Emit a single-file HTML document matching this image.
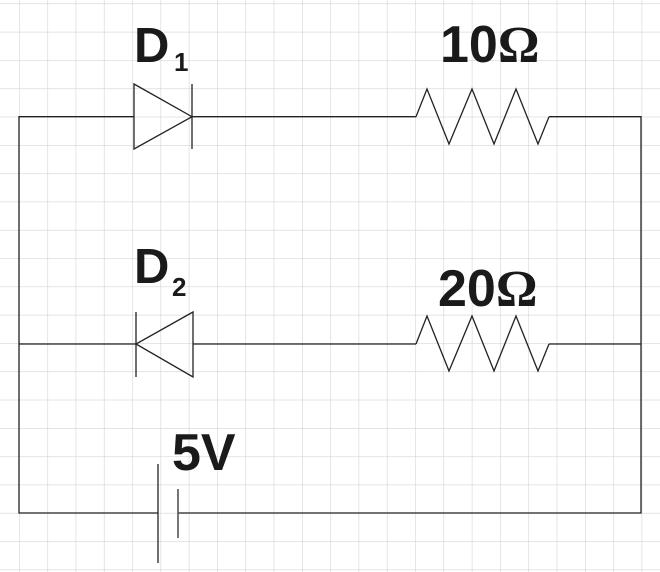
<!DOCTYPE html>
<html><head><style>
html,body{margin:0;padding:0;background:#fff;}
svg{display:block;}
text{font-family:"Liberation Sans",sans-serif;font-weight:bold;fill:#1a1a1a;}
</style></head><body>
<svg width="660" height="572" viewBox="0 0 660 572" xmlns="http://www.w3.org/2000/svg">
<defs>
<pattern id="g" x="19" y="3.5" width="28.3" height="28.3" patternUnits="userSpaceOnUse">
<path d="M0 0V28.3M0 0H28.3" stroke="#d4d4d4" stroke-width="1.2" fill="none"/>
</pattern>
</defs>
<rect width="660" height="572" fill="url(#g)"/>
<g stroke="#222" stroke-width="1.3" fill="none">
<path d="M134 116.7H19V513H158M178 513H641V116.7H549"/>
<path d="M192 116.7H416"/>
<path d="M134 84L192 116.7L134 149Z"/>
<path d="M192 84V149"/>
<path d="M416 116.7L427 89L449 144L472 89L494 144L516 89L538 144L549 116.7"/>
<path d="M19 344H136M193 344H416M549 344H641"/>
<path d="M136 312V377"/>
<path d="M193 312L136 344L193 377Z"/>
<path d="M416 344L427 316L449 371L472 316L494 371L516 316L538 371L549 344"/>
<path d="M158 464V563"/>
<path d="M178 489V538" stroke="#555" stroke-width="1.6"/>
</g>
<text x="134" y="62" font-size="49">D</text><text x="174" y="71" font-size="26">1</text>
<text x="134" y="283" font-size="49">D</text><text x="172" y="296" font-size="26">2</text>
<text x="440" y="62" font-size="52">10<tspan font-family="Liberation Serif, serif">Ω</tspan></text>
<text x="438" y="306" font-size="52">20<tspan font-family="Liberation Serif, serif">Ω</tspan></text>
<text x="172" y="470" font-size="52">5V</text>
</svg>
</body></html>
